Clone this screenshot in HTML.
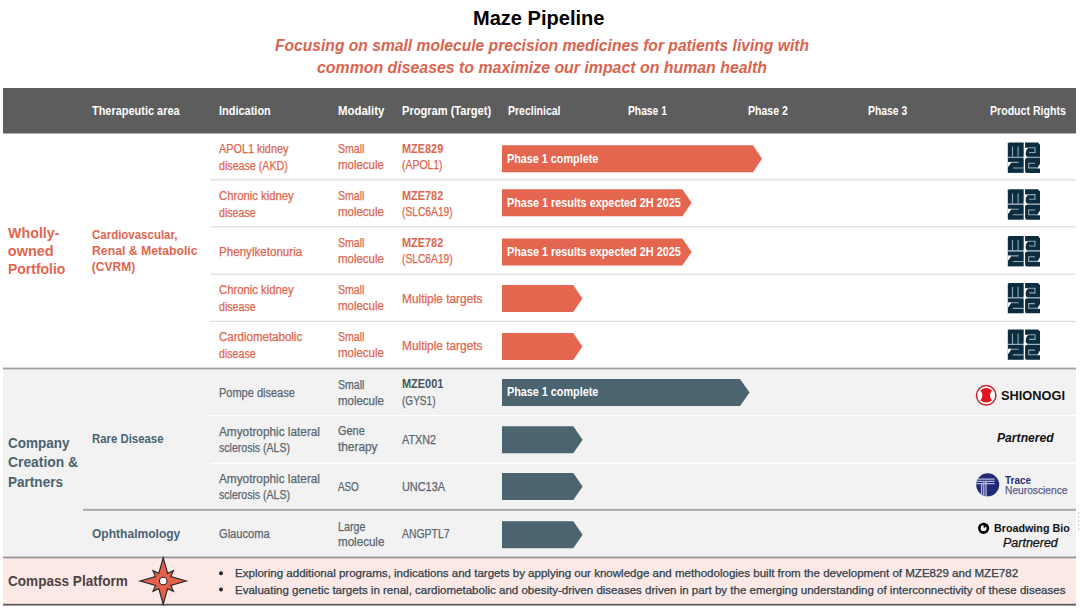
<!DOCTYPE html>
<html><head><meta charset="utf-8"><title>Maze Pipeline</title>
<style>
html,body{margin:0;padding:0;background:#fff;}
body{width:1080px;height:610px;position:relative;overflow:hidden;font-family:"Liberation Sans",sans-serif;}
.t{position:absolute;white-space:nowrap;line-height:1;transform-origin:0 0;}
.r{-webkit-text-stroke:0.25px currentColor;}
</style></head><body>
<svg width="1080" height="610" viewBox="0 0 1080 610" style="position:absolute;left:0;top:0">
<defs>
<g id="maze">
<path d="M1 0H15.9V14.5H0V1Z" fill="#0c2d3f"/>
<path d="M17.3 0H30.2L32.2 2.2V14.5H21Q17.8 14.5 17.8 11Q17.8 7.5 20.5 5.3H17.3Z" fill="#0c2d3f"/>
<path d="M0 15.3H15.9V30.4H0Z" fill="#0c2d3f"/>
<path d="M17.3 15.3H32.2V30.4H19Q17.3 30.4 17.3 28.5Z" fill="#0c2d3f"/>
<g stroke="#8ea8b4" stroke-width="1.1" fill="none">
<path d="M4.7 4.1V14.5M10.3 4.1V14.5"/>
<path d="M0 14.9H32.2"/>
<path d="M20.5 5.3H27.2V10H21.3"/>
<path d="M3.8 19.9H10.9M5 25.5H15.9"/>
<path d="M27.2 20.7H20.9V25.4H29.5"/>
</g>
<path d="M0 19.4H4L0 25Z M32.2 21.2L29.3 25.9H32.2Z M16 12.4L19.6 14.9L16 17.4Z" fill="#fff"/>
</g>
</defs>
<!-- section backgrounds -->
<rect x="3" y="88" width="1073" height="45.5" fill="#5D5D5D"/>
<rect x="3" y="369" width="1073" height="188" fill="#f2f2f2"/>
<rect x="3" y="557" width="1073" height="47.5" fill="#fce9e6"/>
<!-- separators -->
<g fill="#dcdcdc">
<rect x="210" y="179.2" width="866" height="1.2"/>
<rect x="210" y="226.2" width="866" height="1.2"/>
<rect x="210" y="273.6" width="866" height="1.2"/>
<rect x="210" y="320.8" width="866" height="1.2"/>
</g>
<g fill="#ffffff">
<rect x="210" y="415" width="866" height="1.3"/>
<rect x="210" y="462.5" width="866" height="1.3"/>
</g>
<rect x="3" y="367.6" width="1073" height="1.8" fill="#a0a0a0"/>
<rect x="83" y="508.9" width="993" height="1.9" fill="#a6a6a6"/>
<rect x="3" y="556.6" width="1073" height="1.7" fill="#909090"/>
<rect x="3" y="603.8" width="1073" height="1.8" fill="#5c5c5c"/>
<polygon points="502,145.2 753,145.2 762,158.7 753,172.2 502,172.2" fill="#E5664F"/><polygon points="502,189.2 682.4,189.2 691.6,202.7 682.4,216.2 502,216.2" fill="#E5664F"/><polygon points="502,238.5 682.4,238.5 691.6,252.0 682.4,265.5 502,265.5" fill="#E5664F"/><polygon points="502,285 573.2,285 582.4,298.5 573.2,312 502,312" fill="#E5664F"/><polygon points="502,333 573.2,333 582.4,346.5 573.2,360 502,360" fill="#E5664F"/><polygon points="502,379 740,379 749.6,392.5 740,406 502,406" fill="#4B6470"/><polygon points="502,426.2 573.3,426.2 582.6,439.7 573.3,453.2 502,453.2" fill="#4B6470"/><polygon points="502,473 573.3,473 582.6,486.5 573.3,500 502,500" fill="#4B6470"/><polygon points="502,521.2 573.3,521.2 582.6,534.7 573.3,548.2 502,548.2" fill="#4B6470"/>
<use href="#maze" x="1007.8" y="142.5"/><use href="#maze" x="1007.8" y="189.3"/><use href="#maze" x="1007.8" y="236"/><use href="#maze" x="1007.8" y="282.9"/><use href="#maze" x="1007.8" y="329.4"/>
<!-- shionogi -->
<circle cx="986.2" cy="395.3" r="9.75" fill="#fff" stroke="#d01f2e" stroke-width="1.5"/>
<path transform="translate(986.2,395.3)" d="M-5.8,-4.9 Q0,-9.6 5.8,-4.9 Q1.6,0 5.8,4.9 Q0,9.6 -5.8,4.9 Q-1.6,0 -5.8,-4.9 Z" fill="#e0131f"/>
<!-- trace -->
<clipPath id="tc"><circle cx="987.7" cy="484.8" r="11.5"/></clipPath>
<circle cx="987.7" cy="484.8" r="11.5" fill="#232a75"/>
<g clip-path="url(#tc)" stroke="#b5badc" stroke-width="1.3" fill="none">
<path d="M976 479.2H994.6M976 481.4H994.6M976 483.6H994.6"/>
<path d="M981.6 483.6V497M983.8 481.4V497M986 481.4V497"/>
</g>
<!-- broadwing -->
<circle cx="983.6" cy="528.3" r="4.3" fill="#fff" stroke="#000" stroke-width="2.6"/>
<path d="M983.6 528.3V524.5A3.8 3.8 0 0 1 986.9 526.4Z" fill="#000"/>
<!-- compass star -->
<g transform="translate(163.2,581)">
<path d="M0,-23.2 L4.4,-7.6 L10.2,-10.2 L7.6,-4.4 L23,0 L7.6,4.4 L10.2,10.2 L4.4,7.6 L0,23.2 L-4.4,7.6 L-10.2,10.2 L-7.6,4.4 L-23,0 L-7.6,-4.4 L-10.2,-10.2 L-4.4,-7.6 Z" fill="#e5604a" stroke="#262a2e" stroke-width="1.2" stroke-linejoin="miter"/>
<circle r="3.8" fill="#fff" stroke="#262a2e" stroke-width="1.1"/>
</g>
<path d="M1078.7 512V532" stroke="#d0d0d0" stroke-width="1.2" stroke-dasharray="2 2"/>
<!-- bullets -->
<circle cx="221" cy="573.3" r="2" fill="#1e2a33"/>
<circle cx="221" cy="589.6" r="2" fill="#1e2a33"/>
</svg>
<div class='t' style="left:472.6px;top:8.07px;font-size:20px;font-weight:700;font-style:normal;color:#000;transform:scaleX(1.0019);">Maze Pipeline</div><div class='t' style="left:275.4px;top:38.06px;font-size:16px;font-weight:700;font-style:italic;color:#DA644F;transform:scaleX(0.9766);">Focusing on small molecule precision medicines for patients living with</div><div class='t' style="left:316.9px;top:59.56px;font-size:16px;font-weight:700;font-style:italic;color:#DA644F;transform:scaleX(0.9924);">common diseases to maximize our impact on human health</div><div class='t' style="left:91.6px;top:104.54px;font-size:12px;font-weight:700;font-style:normal;color:#fff;transform:scaleX(0.9121);">Therapeutic area</div><div class='t' style="left:218.9px;top:104.54px;font-size:12px;font-weight:700;font-style:normal;color:#fff;transform:scaleX(0.9140);">Indication</div><div class='t' style="left:338.1px;top:104.54px;font-size:12px;font-weight:700;font-style:normal;color:#fff;transform:scaleX(0.9513);">Modality</div><div class='t' style="left:401.9px;top:104.54px;font-size:12px;font-weight:700;font-style:normal;color:#fff;transform:scaleX(0.9236);">Program (Target)</div><div class='t' style="left:508.2px;top:104.54px;font-size:12px;font-weight:700;font-style:normal;color:#fff;transform:scaleX(0.8743);">Preclinical</div><div class='t' style="left:628.1px;top:104.54px;font-size:12px;font-weight:700;font-style:normal;color:#fff;transform:scaleX(0.8573);">Phase 1</div><div class='t' style="left:747.8px;top:104.54px;font-size:12px;font-weight:700;font-style:normal;color:#fff;transform:scaleX(0.8793);">Phase 2</div><div class='t' style="left:868.4px;top:104.54px;font-size:12px;font-weight:700;font-style:normal;color:#fff;transform:scaleX(0.8639);">Phase 3</div><div class='t' style="left:990.2px;top:104.54px;font-size:12px;font-weight:700;font-style:normal;color:#fff;transform:scaleX(0.8814);">Product Rights</div><div class='t' style="left:7.8px;top:225.63px;font-size:14.5px;font-weight:700;font-style:normal;color:#E0664F;transform:scaleX(0.9836);">Wholly-</div><div class='t' style="left:7.8px;top:244.03px;font-size:14.5px;font-weight:700;font-style:normal;color:#E0664F;">owned</div><div class='t' style="left:7.8px;top:262.33px;font-size:14.5px;font-weight:700;font-style:normal;color:#E0664F;transform:scaleX(0.9613);">Portfolio</div><div class='t' style="left:91.8px;top:229.14px;font-size:12px;font-weight:700;font-style:normal;color:#E0664F;transform:scaleX(0.9565);">Cardiovascular,</div><div class='t' style="left:91.8px;top:245.24px;font-size:12px;font-weight:700;font-style:normal;color:#E0664F;transform:scaleX(1.0217);">Renal &amp; Metabolic</div><div class='t' style="left:91.8px;top:261.24px;font-size:12px;font-weight:700;font-style:normal;color:#E0664F;">(CVRM)</div><div class='t r' style="left:218.9px;top:143.44px;font-size:12px;font-weight:400;font-style:normal;color:#E0664F;transform:scaleX(0.9046);">APOL1 kidney</div><div class='t r' style="left:218.9px;top:159.74px;font-size:12px;font-weight:400;font-style:normal;color:#E0664F;transform:scaleX(0.8892);">disease (AKD)</div><div class='t r' style="left:337.9px;top:143.04px;font-size:12px;font-weight:400;font-style:normal;color:#E0664F;transform:scaleX(0.8795);">Small</div><div class='t r' style="left:337.9px;top:159.24px;font-size:12px;font-weight:400;font-style:normal;color:#E0664F;transform:scaleX(0.9556);">molecule</div><div class='t' style="left:402.4px;top:142.64px;font-size:12px;font-weight:700;font-style:normal;color:#E0664F;transform:scaleX(0.9083);">MZE829</div><div class='t r' style="left:402.4px;top:159.24px;font-size:12px;font-weight:400;font-style:normal;color:#E0664F;transform:scaleX(0.8696);">(APOL1)</div><div class='t r' style="left:218.9px;top:190.44px;font-size:12px;font-weight:400;font-style:normal;color:#E0664F;transform:scaleX(0.9411);">Chronic kidney</div><div class='t r' style="left:218.9px;top:206.74px;font-size:12px;font-weight:400;font-style:normal;color:#E0664F;transform:scaleX(0.8846);">disease</div><div class='t r' style="left:337.9px;top:190.04px;font-size:12px;font-weight:400;font-style:normal;color:#E0664F;transform:scaleX(0.8795);">Small</div><div class='t r' style="left:337.9px;top:206.24px;font-size:12px;font-weight:400;font-style:normal;color:#E0664F;transform:scaleX(0.9556);">molecule</div><div class='t' style="left:402.4px;top:189.64px;font-size:12px;font-weight:700;font-style:normal;color:#E0664F;transform:scaleX(0.9083);">MZE782</div><div class='t r' style="left:402.4px;top:206.24px;font-size:12px;font-weight:400;font-style:normal;color:#E0664F;transform:scaleX(0.8539);">(SLC6A19)</div><div class='t r' style="left:218.9px;top:245.54px;font-size:12px;font-weight:400;font-style:normal;color:#E0664F;transform:scaleX(0.9667);">Phenylketonuria</div><div class='t r' style="left:337.9px;top:237.04px;font-size:12px;font-weight:400;font-style:normal;color:#E0664F;transform:scaleX(0.8795);">Small</div><div class='t r' style="left:337.9px;top:253.24px;font-size:12px;font-weight:400;font-style:normal;color:#E0664F;transform:scaleX(0.9556);">molecule</div><div class='t' style="left:402.4px;top:236.64px;font-size:12px;font-weight:700;font-style:normal;color:#E0664F;transform:scaleX(0.9083);">MZE782</div><div class='t r' style="left:402.4px;top:253.24px;font-size:12px;font-weight:400;font-style:normal;color:#E0664F;transform:scaleX(0.8539);">(SLC6A19)</div><div class='t r' style="left:218.9px;top:284.44px;font-size:12px;font-weight:400;font-style:normal;color:#E0664F;transform:scaleX(0.9411);">Chronic kidney</div><div class='t r' style="left:218.9px;top:300.74px;font-size:12px;font-weight:400;font-style:normal;color:#E0664F;transform:scaleX(0.8846);">disease</div><div class='t r' style="left:337.9px;top:284.04px;font-size:12px;font-weight:400;font-style:normal;color:#E0664F;transform:scaleX(0.8795);">Small</div><div class='t r' style="left:337.9px;top:300.24px;font-size:12px;font-weight:400;font-style:normal;color:#E0664F;transform:scaleX(0.9556);">molecule</div><div class='t r' style="left:402.4px;top:292.74px;font-size:12px;font-weight:400;font-style:normal;color:#E0664F;transform:scaleX(0.9892);">Multiple targets</div><div class='t r' style="left:218.9px;top:331.44px;font-size:12px;font-weight:400;font-style:normal;color:#E0664F;transform:scaleX(0.9594);">Cardiometabolic</div><div class='t r' style="left:218.9px;top:347.74px;font-size:12px;font-weight:400;font-style:normal;color:#E0664F;transform:scaleX(0.8846);">disease</div><div class='t r' style="left:337.9px;top:331.04px;font-size:12px;font-weight:400;font-style:normal;color:#E0664F;transform:scaleX(0.8795);">Small</div><div class='t r' style="left:337.9px;top:347.24px;font-size:12px;font-weight:400;font-style:normal;color:#E0664F;transform:scaleX(0.9556);">molecule</div><div class='t r' style="left:402.4px;top:339.74px;font-size:12px;font-weight:400;font-style:normal;color:#E0664F;transform:scaleX(0.9892);">Multiple targets</div><div class='t' style="left:7.8px;top:436.03px;font-size:14.5px;font-weight:700;font-style:normal;color:#4A6370;transform:scaleX(0.9322);">Company</div><div class='t' style="left:7.8px;top:455.43px;font-size:14.5px;font-weight:700;font-style:normal;color:#4A6370;transform:scaleX(0.9546);">Creation &amp;</div><div class='t' style="left:7.8px;top:474.53px;font-size:14.5px;font-weight:700;font-style:normal;color:#4A6370;transform:scaleX(0.9347);">Partners</div><div class='t' style="left:91.8px;top:433.42px;font-size:12.5px;font-weight:700;font-style:normal;color:#4A6370;transform:scaleX(0.9105);">Rare Disease</div><div class='t' style="left:91.6px;top:527.82px;font-size:12.5px;font-weight:700;font-style:normal;color:#4A6370;transform:scaleX(0.9632);">Ophthalmology</div><div class='t r' style="left:218.9px;top:386.64px;font-size:12px;font-weight:400;font-style:normal;color:#5A6770;transform:scaleX(0.9164);">Pompe disease</div><div class='t r' style="left:218.9px;top:425.74px;font-size:12px;font-weight:400;font-style:normal;color:#5A6770;transform:scaleX(0.9833);">Amyotrophic lateral</div><div class='t r' style="left:218.9px;top:441.74px;font-size:12px;font-weight:400;font-style:normal;color:#5A6770;transform:scaleX(0.8799);">sclerosis (ALS)</div><div class='t r' style="left:218.9px;top:472.74px;font-size:12px;font-weight:400;font-style:normal;color:#5A6770;transform:scaleX(0.9833);">Amyotrophic lateral</div><div class='t r' style="left:218.9px;top:488.84px;font-size:12px;font-weight:400;font-style:normal;color:#5A6770;transform:scaleX(0.8799);">sclerosis (ALS)</div><div class='t r' style="left:218.9px;top:528.44px;font-size:12px;font-weight:400;font-style:normal;color:#5A6770;transform:scaleX(0.9250);">Glaucoma</div><div class='t r' style="left:337.9px;top:378.54px;font-size:12px;font-weight:400;font-style:normal;color:#5A6770;transform:scaleX(0.8795);">Small</div><div class='t r' style="left:337.9px;top:394.64px;font-size:12px;font-weight:400;font-style:normal;color:#5A6770;transform:scaleX(0.9556);">molecule</div><div class='t r' style="left:337.9px;top:425.44px;font-size:12px;font-weight:400;font-style:normal;color:#5A6770;transform:scaleX(0.9128);">Gene</div><div class='t r' style="left:337.9px;top:441.44px;font-size:12px;font-weight:400;font-style:normal;color:#5A6770;transform:scaleX(0.9867);">therapy</div><div class='t r' style="left:337.9px;top:481.14px;font-size:12px;font-weight:400;font-style:normal;color:#5A6770;transform:scaleX(0.8168);">ASO</div><div class='t r' style="left:337.9px;top:520.64px;font-size:12px;font-weight:400;font-style:normal;color:#5A6770;transform:scaleX(0.8924);">Large</div><div class='t r' style="left:337.9px;top:536.24px;font-size:12px;font-weight:400;font-style:normal;color:#5A6770;transform:scaleX(0.9660);">molecule</div><div class='t' style="left:402.4px;top:378.14px;font-size:12px;font-weight:700;font-style:normal;color:#46555e;transform:scaleX(0.9127);">MZE001</div><div class='t r' style="left:402.4px;top:394.64px;font-size:12px;font-weight:400;font-style:normal;color:#5A6770;transform:scaleX(0.8372);">(GYS1)</div><div class='t r' style="left:402.4px;top:434.14px;font-size:12px;font-weight:400;font-style:normal;color:#5A6770;transform:scaleX(0.9022);">ATXN2</div><div class='t r' style="left:402.4px;top:481.14px;font-size:12px;font-weight:400;font-style:normal;color:#5A6770;transform:scaleX(0.9080);">UNC13A</div><div class='t r' style="left:402.4px;top:527.94px;font-size:12px;font-weight:400;font-style:normal;color:#5A6770;transform:scaleX(0.8686);">ANGPTL7</div><div class='t' style="left:506.7px;top:152.64px;font-size:12px;font-weight:700;font-style:normal;color:#fff;transform:scaleX(0.9005);">Phase 1 complete</div><div class='t' style="left:506.6px;top:196.74px;font-size:12px;font-weight:700;font-style:normal;color:#fff;transform:scaleX(0.9046);">Phase 1 results expected 2H 2025</div><div class='t' style="left:506.6px;top:245.94px;font-size:12px;font-weight:700;font-style:normal;color:#fff;transform:scaleX(0.9046);">Phase 1 results expected 2H 2025</div><div class='t' style="left:506.7px;top:386.34px;font-size:12px;font-weight:700;font-style:normal;color:#fff;transform:scaleX(0.9005);">Phase 1 complete</div><div class='t' style="left:1001.0px;top:390.02px;font-size:12.5px;font-weight:700;font-style:normal;color:#111;transform:scaleX(1.0237);">SHIONOGI</div><div class='t' style="left:996.8px;top:431.72px;font-size:12.5px;font-weight:700;font-style:italic;color:#111;transform:scaleX(0.9716);">Partnered</div><div class='t' style="left:1005.2px;top:475.74px;font-size:10px;font-weight:700;font-style:normal;color:#2b3172;transform:scaleX(1.0023);">Trace</div><div class='t r' style="left:1005.2px;top:484.81px;font-size:10.5px;font-weight:400;font-style:normal;color:#5b6090;transform:scaleX(0.9735);">Neuroscience</div><div class='t' style="left:993.9px;top:522.89px;font-size:11px;font-weight:700;font-style:normal;color:#111;transform:scaleX(0.9754);">Broadwing Bio</div><div class='t r' style="left:1002.8px;top:536.94px;font-size:12px;font-weight:400;font-style:italic;color:#111;transform:scaleX(1.0398);">Partnered</div><div class='t' style="left:7.8px;top:574.35px;font-size:14px;font-weight:700;font-style:normal;color:#4a4343;transform:scaleX(0.9693);">Compass Platform</div><div class='t r' style="left:234.6px;top:568.29px;font-size:11px;font-weight:400;font-style:normal;color:#2d404b;transform:scaleX(1.0489);">Exploring additional programs, indications and targets by applying our knowledge and methodologies built from the development of MZE829 and MZE782</div><div class='t r' style="left:234.6px;top:584.59px;font-size:11px;font-weight:400;font-style:normal;color:#2d404b;transform:scaleX(1.0479);">Evaluating genetic targets in renal, cardiometabolic and obesity-driven diseases driven in part by the emerging understanding of interconnectivity of these diseases</div>
</body></html>
